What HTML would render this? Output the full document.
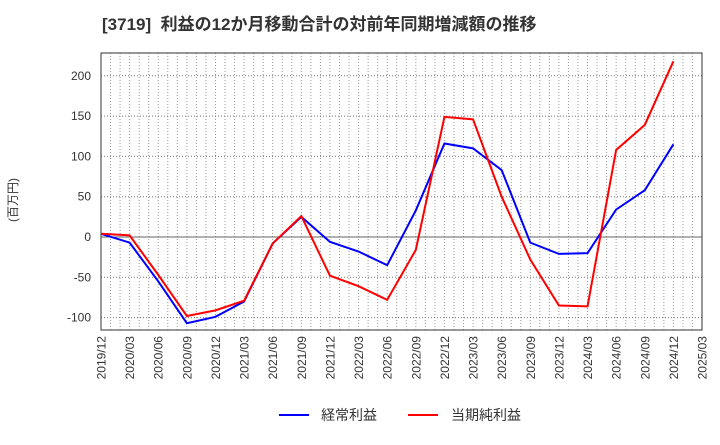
<!DOCTYPE html>
<html><head><meta charset="utf-8"><style>
body{margin:0;background:#fff;}
svg text{font-family:"Liberation Sans","Noto Sans CJK JP",sans-serif;}
</style></head><body>
<svg id="chart" width="720" height="440" xmlns="http://www.w3.org/2000/svg">
<text x="102" y="30" font-size="17" font-weight="bold" fill="#333" xml:space="preserve">[3719]  利益の12か月移動合計の対前年同期増減額の推移</text>
<text transform="translate(17,200) rotate(-90)" text-anchor="middle" font-size="12" fill="#333">(百万円)</text>
<g id="grid"></g><g id="axes"></g><g id="series"></g>
<g>
<line x1="279" y1="415" x2="309" y2="415" stroke="#0000ff" stroke-width="2"/>
<text x="321" y="420" font-size="14" fill="#333">経常利益</text>
<line x1="408" y1="415" x2="438" y2="415" stroke="#ff0000" stroke-width="2"/>
<text x="451" y="420" font-size="14" fill="#333">当期純利益</text>
</g>
</svg>
<script>
const categories=["2019/12","2020/03","2020/06","2020/09","2020/12","2021/03","2021/06","2021/09","2021/12","2022/03","2022/06","2022/09","2022/12","2023/03","2023/06","2023/09","2023/12","2024/03","2024/06","2024/09","2024/12","2025/03"];
const ordinaryProfit=[4,-7,-55,-107,-99,-80,-8,25,-6,-18,-35,33,116,110,83,-7,-21,-20,34,58,115];
const netProfit=[4,2,-47,-98,-91,-79,-8,26,-48,-61,-78,-16,149,146,50,-28,-85,-86,108,139,218];
const yTicks=[-100,-50,0,50,100,150,200];
const L=101,R=702,T=53,B=330;
const x=i=>L+(R-L)*i/(categories.length-1);
const y=v=>237-v*0.806;
const NS="http://www.w3.org/2000/svg";
function mk(tag,attrs,parent){const e=document.createElementNS(NS,tag);for(const k in attrs)e.setAttribute(k,attrs[k]);parent.appendChild(e);return e;}
const grid=document.getElementById('grid'),axes=document.getElementById('axes'),series=document.getElementById('series');
for(let m=1;m<(categories.length-1)*3;m++){const xx=L+(R-L)*m/((categories.length-1)*3);
 const g=mk('line',{x1:xx,x2:xx,y1:T,y2:B,stroke:'#999','stroke-dasharray':'1,2'},grid);
 
 }
yTicks.forEach(v=>{const g=mk('line',{x1:L,x2:R,y1:y(v),y2:y(v),stroke:v===0?'#666':'#777','stroke-dasharray':v===0?'':'1,2'},grid);
 
 
 const t=mk('text',{x:91,y:y(v)+4,'text-anchor':'end','font-size':'12',fill:'#333'},axes);t.textContent=v;
 
 });
const fr=mk('rect',{x:L,y:T,width:R-L,height:B-T,fill:'none',stroke:'#333'},axes);


categories.forEach((c,i)=>{const t=mk('text',{transform:`translate(${x(i)+4.5},${B+6}) rotate(-90)`,'text-anchor':'end','font-size':'12',fill:'#333'},axes);t.textContent=c;
 
 });
function line(data,color,name){const p=mk('polyline',{points:data.map((v,i)=>x(i)+','+y(v)).join(' '),fill:'none',stroke:color,'stroke-width':2},series);
 
 }
line(ordinaryProfit,'#0000ff','ordinary-profit-line');
line(netProfit,'#ff0000','net-profit-line');
</script>
</body></html>
